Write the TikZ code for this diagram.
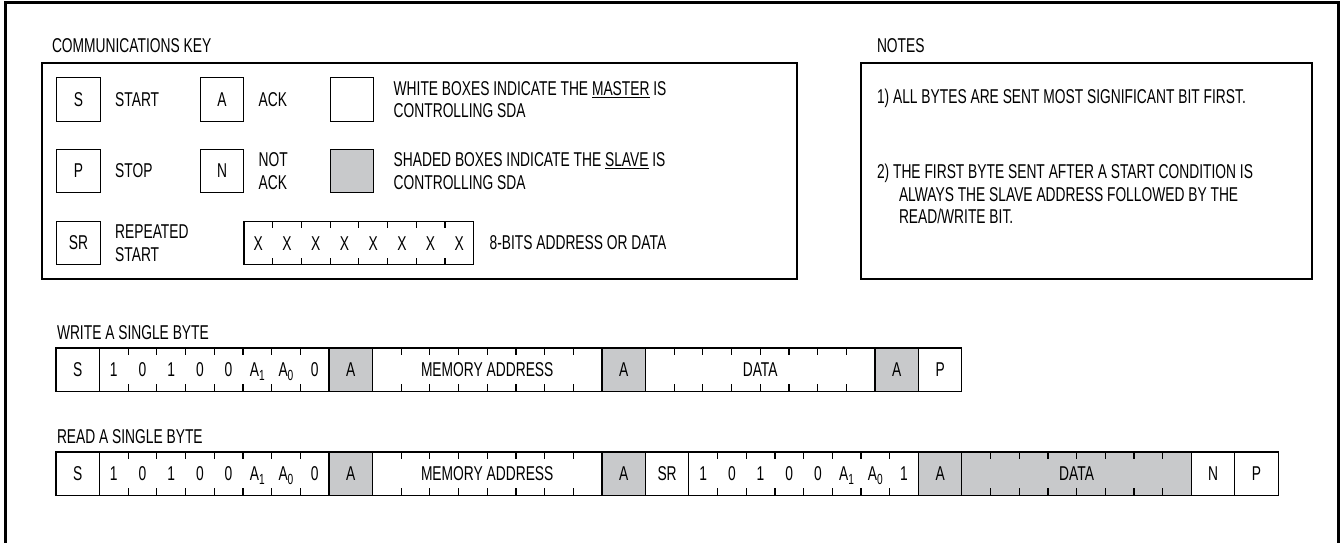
\documentclass[tikz,border=0pt]{standalone}
\usepackage{fontspec}
\setmainfont{Liberation Sans}[FakeStretch=0.69]
\usetikzlibrary{positioning}
\definecolor{slavegray}{RGB}{200,201,203}
\newcommand{\bitsub}[1]{\raisebox{-2.5pt}{\fontsize{11}{11}\selectfont #1}}

\begin{document}
\begin{tikzpicture}[x=0.75pt,y=-0.75pt]
    \tikzstyle{every node} = [font=\fontsize{15}{17}\selectfont, inner sep=0pt, outer sep=0pt]
    \tikzstyle{panel} = [draw, line width=0.9pt, anchor=north west]
    \tikzstyle{slot} = [draw, line width=0.9pt, minimum width=32.55pt, minimum height=32.55pt]
    \tikzstyle{byte} = [slot, minimum width=172.2pt]
    \tikzstyle{slave} = [fill=slavegray]
    \tikzstyle{keytext} = [align=left, anchor=west]
    \tikzstyle{bit} = [text height=10.5pt, text depth=0pt]
    \useasboundingbox (0,0) rectangle (1340,543);

    % outer frame
    \draw[line width=1.8pt] (5.5,543) -- (5.5,2.5) -- (1338.5,2.5) -- (1338.5,543);

    % communications key
    \node[anchor=west] (keyTitle) at (52,46) {COMMUNICATIONS KEY};
    \node[panel, minimum width=566.25pt, minimum height=162pt] (keyPanel) at (42,63) {};
    \node[slot] (keyS) at (78.5,99.5) {S};
    \node[slot] (keyP) at (78.5,171) {P};
    \node[slot] (keySR) at (78.5,243) {SR};
    \node[slot] (keyA) at (222,99.5) {A};
    \node[slot] (keyN) at (222,171) {N};
    \node[slot] (keyWhite) at (352,99.5) {};
    \node[slot, slave] (keyShaded) at (352,171) {};
    \node[byte, anchor=west] (keyByte) at (244,243) {};
    \node[keytext, right=11.25pt of keyS] (lblStart) {START};
    \node[keytext, right=11.25pt of keyP] (lblStop) {STOP};
    \node[keytext, right=11.25pt of keySR] (lblRep) {REPEATED\\START};
    \node[keytext, right=11.25pt of keyA] (lblAck) {ACK};
    \node[keytext, right=11.25pt of keyN] (lblNack) {NOT\\ACK};
    \node[keytext, right=15pt of keyWhite] (lblMaster) {WHITE BOXES INDICATE THE \underline{MASTER} IS\\CONTROLLING SDA};
    \node[keytext, right=15pt of keyShaded] (lblSlave) {SHADED BOXES INDICATE THE \underline{SLAVE} IS\\CONTROLLING SDA};
    \node[keytext, right=12pt of keyByte] (lblByte) {8-BITS ADDRESS OR DATA};
    \foreach \i in {1,...,8}
        \node[bit] (keyX\i) at ([xshift=(\i-0.5)*21.525pt]keyByte.west) {X};

    % notes
    \node[anchor=west] (notesTitle) at (877,46) {NOTES};
    \node[panel, minimum width=338.25pt, minimum height=162pt] (notesPanel) at (861,63) {};
    \node[keytext] (noteOne) at (877,98) {1) ALL BYTES ARE SENT MOST SIGNIFICANT BIT FIRST.};
    \node[keytext] (noteTwo) at (877,194) {2) THE FIRST BYTE SENT AFTER A START CONDITION IS\\\hspace*{16.5pt}ALWAYS THE SLAVE ADDRESS FOLLOWED BY THE\\\hspace*{16.5pt}READ/WRITE BIT.};

    % write a single byte
    \node[anchor=west] (writeTitle) at (57,333) {WRITE A SINGLE BYTE};
    \node[slot, anchor=north west] (wS) at (56,348) {S};
    \node[byte, right=0pt of wS] (wAddr) {};
    \node[slot, slave, right=0pt of wAddr] (wAckA) {A};
    \node[byte, right=0pt of wAckA] (wMem) {MEMORY ADDRESS};
    \node[slot, slave, right=0pt of wMem] (wAckB) {A};
    \node[byte, right=0pt of wAckB] (wData) {DATA};
    \node[slot, slave, right=0pt of wData] (wAckC) {A};
    \node[slot, right=0pt of wAckC] (wStop) {P};

    % read a single byte
    \node[anchor=west] (readTitle) at (57,437) {READ A SINGLE BYTE};
    \node[slot, anchor=north west] (rS) at (56,452) {S};
    \node[byte, right=0pt of rS] (rAddr) {};
    \node[slot, slave, right=0pt of rAddr] (rAckA) {A};
    \node[byte, right=0pt of rAckA] (rMem) {MEMORY ADDRESS};
    \node[slot, slave, right=0pt of rMem] (rAckB) {A};
    \node[slot, right=0pt of rAckB] (rRep) {SR};
    \node[byte, right=0pt of rRep] (rAddrB) {};
    \node[slot, slave, right=0pt of rAddrB] (rAckC) {A};
    \node[byte, slave, right=0pt of rAckC] (rData) {DATA};
    \node[slot, right=0pt of rData] (rNack) {N};
    \node[slot, right=0pt of rNack] (rStop) {P};

    % address bits
    \foreach \f/\rw in {wAddr/0,rAddr/0,rAddrB/1}
        \foreach \b [count=\i] in {1,0,1,0,0,A\bitsub{1},A\bitsub{0},\rw}
            \node[bit] (\f\i) at ([xshift=(\i-0.5)*21.525pt]\f.west) {\b};

    % bit ticks
    \foreach \f in {keyByte,wAddr,wMem,wData,rAddr,rMem,rAddrB,rData}
        \foreach \i in {1,...,7} {
            \draw[line width=0.9pt] ([xshift=\i*21.525pt]\f.north west) -- ++(0,7);
            \draw[line width=0.9pt] ([xshift=\i*21.525pt]\f.south west) -- ++(0,-7);
        }
\end{tikzpicture}
\end{document}
